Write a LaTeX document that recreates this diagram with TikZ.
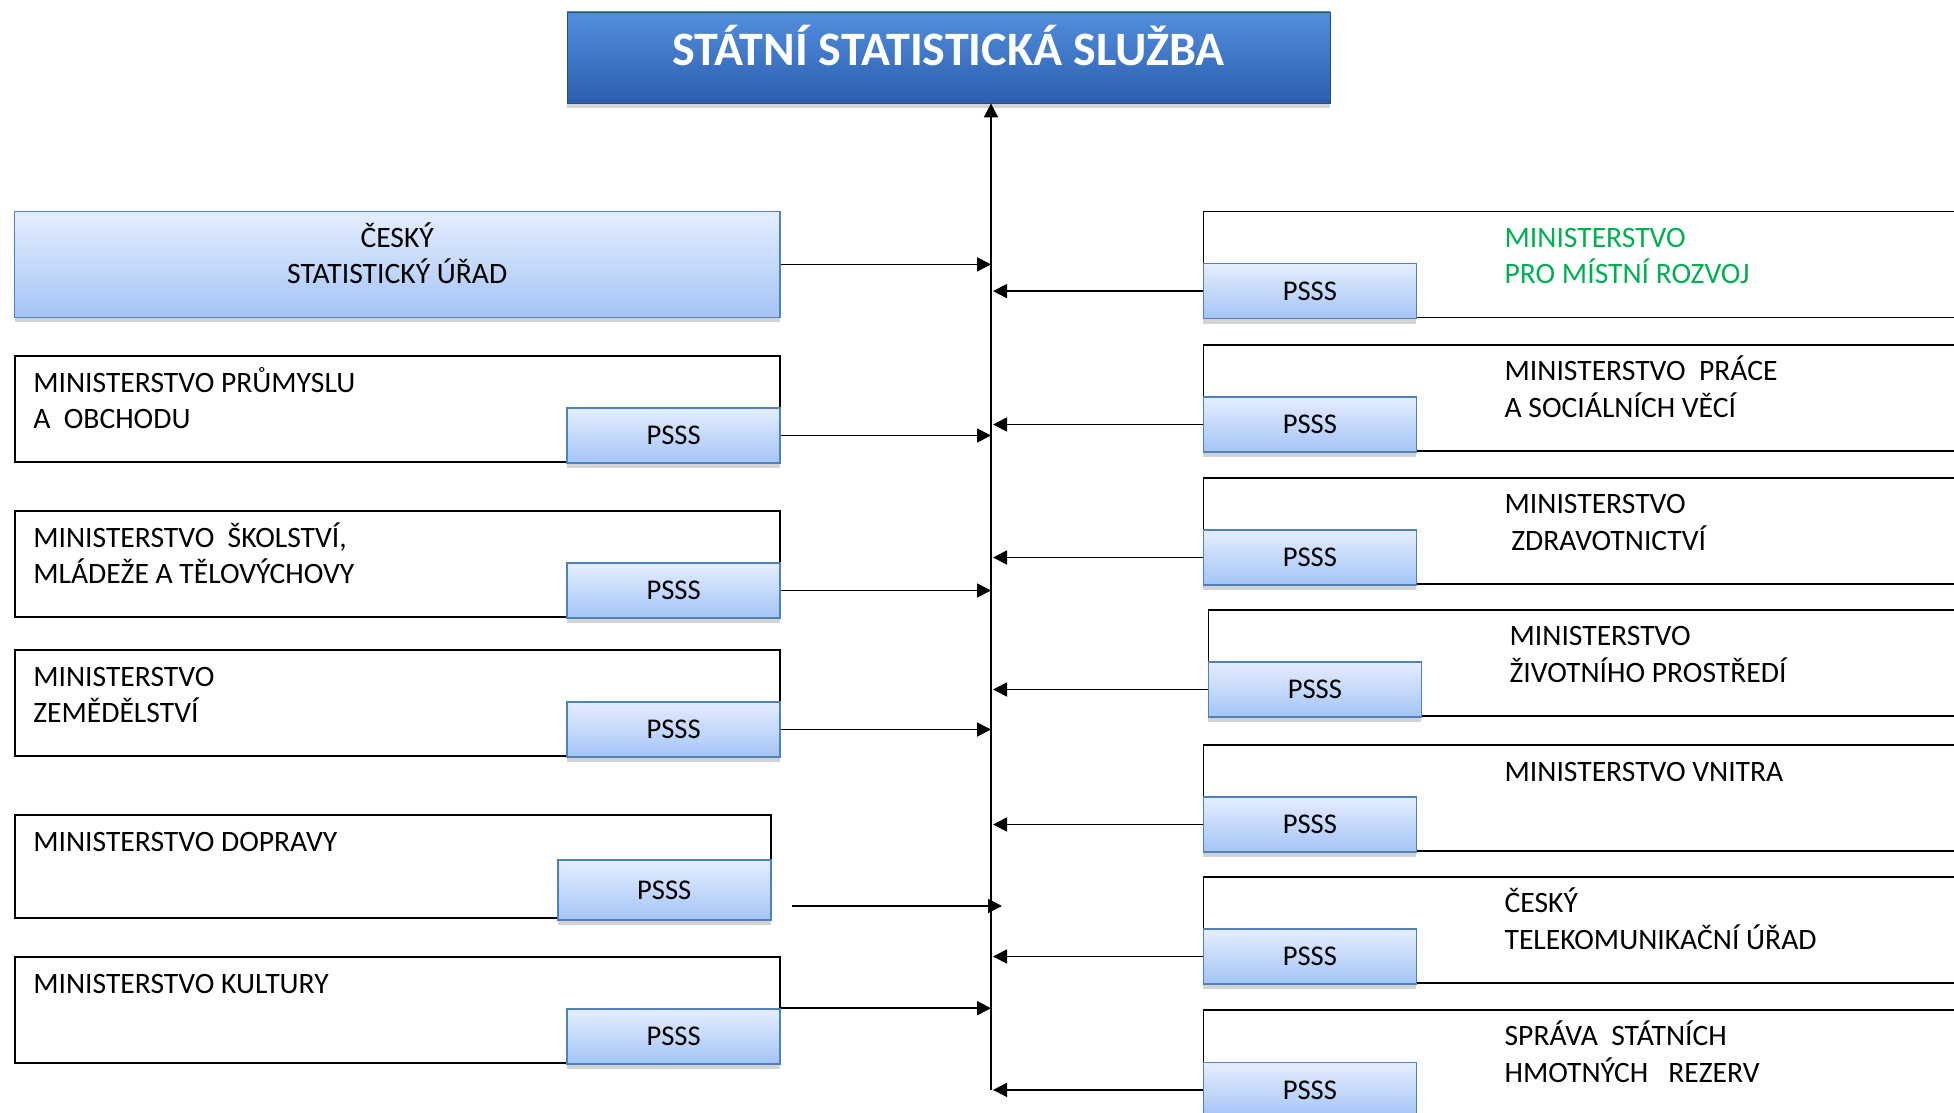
\documentclass[tikz,border=0pt]{standalone}
\usepackage{fontspec}
\setmainfont{Carlito}
\usetikzlibrary{positioning,arrows.meta,shadows}
\definecolor{titletop}{RGB}{82,142,222}
\definecolor{titlebot}{RGB}{44,94,172}
\definecolor{titleline}{RGB}{38,78,140}
\definecolor{pssstop}{RGB}{229,238,254}
\definecolor{psssbot}{RGB}{164,196,246}
\definecolor{psssline}{RGB}{79,129,189}
\definecolor{mmrgreen}{RGB}{0,176,80}
\tikzset{
	orgfont/.style={font=\fontsize{14.8}{18.3}\selectfont},
	boxshadow/.style={drop shadow={shadow xshift=0pt,shadow yshift=-2.5pt,opacity=0.35}},
	titlebox/.style={draw=titleline, top color=titletop, bottom color=titlebot, text=white,
		font=\bfseries\fontsize{24}{29}\selectfont, minimum width=381.5pt, minimum height=45.5pt,
		inner sep=0pt, text height=16pt, text depth=8pt, boxshadow},
	orgbox/.style={draw, line width=0.9pt, minimum height=53pt, inner sep=0pt, anchor=north west},
	psssbox/.style={draw=psssline, line width=0.8pt, top color=pssstop, bottom color=psssbot,
		font=\fontsize{14.3}{18}\selectfont, minimum width=106.5pt, minimum height=27.5pt, inner sep=0pt, boxshadow},
	orgtext/.style={orgfont, align=left, inner sep=0pt},
	arr/.style={line width=0.9pt, -{Triangle[length=7pt,width=7pt]}}
}
\begin{document}
\begin{tikzpicture}[x=0.5pt,y=-0.5pt]
	\useasboundingbox (0,0) rectangle (1954,1113);
	\clip (0,0) rectangle (1954,1113);
	\node[titlebox] (ssm) at (948.5,57.5) {STÁTNÍ STATISTICKÁ SLUŽBA};
	\coordinate (spine) at (991,1090);
	\draw[arr] (spine) -- (ssm.south -| spine);
	\node[psssbox, orgbox, draw=psssline, line width=0.8pt, orgfont, minimum width=382.7pt, align=center,
		text height=24pt, text depth=4.7pt] (csu) at (13.7,210.6) {ČESKÝ\\STATISTICKÝ ÚŘAD};
	\draw[arr] (csu.east) -- (csu.east -| spine);
	\foreach \n/\top/\at/\lh/\txt in {
		mpo/355/east/18.3/{MINISTERSTVO PRŮMYSLU\\A\ \ OBCHODU},
		msmt/510/east/18.3/{MINISTERSTVO\ \ ŠKOLSTVÍ,\\MLÁDEŽE A TĚLOVÝCHOVY},
		mze/649/east/18.3/{MINISTERSTVO\\ZEMĚDĚLSTVÍ},
		mk/956/north east/0/{MINISTERSTVO KULTURY}}
	{
		\node[orgbox, minimum width=382.7pt] (\n) at (13.7,\top) {};
		\node[orgtext, text height=\lh pt, below right=18.3pt and 9.6pt of \n.north west] {\txt};
		\node[psssbox, anchor=south east] (\n p) at ([yshift=-0.5pt]\n.south east) {PSSS};
		\draw[arr] (\n p.\at) -- (\n p.\at -| spine);
	}
	\node[orgbox, minimum width=378pt, minimum height=51.5pt] (md) at (13.7,814) {};
	\node[orgtext, text height=0pt, below right=18.3pt and 9.6pt of md.north west] {MINISTERSTVO DOPRAVY};
	\node[psssbox, anchor=south east, minimum height=30pt] (mdp) at ([yshift=-1pt]md.south east) {PSSS};
	\coordinate (mdfrom) at (792,906);
	\coordinate (mdto) at (1002,906);
	\draw[arr] (mdfrom) -- (mdto);
	\foreach \n/\top/\dx/\col/\lh/\txt in {
		mmr/210.6/0/mmrgreen/18.3/{MINISTERSTVO\\PRO MÍSTNÍ ROZVOJ},
		mpsv/344/0/black/18.3/{MINISTERSTVO\ \ PRÁCE\\A SOCIÁLNÍCH VĚCÍ},
		mzd/477/0/black/18.3/{MINISTERSTVO\\\ ZDRAVOTNICTVÍ},
		mzp/609/5/black/18.3/{MINISTERSTVO\\ŽIVOTNÍHO PROSTŘEDÍ},
		mv/744/0/black/0/{MINISTERSTVO VNITRA},
		ctu/876/0/black/18.3/{ČESKÝ\\TELEKOMUNIKAČNÍ ÚŘAD},
		sshr/1009.4/0/black/18.3/{SPRÁVA\ \ STÁTNÍCH\\HMOTNÝCH\ \ \ REZERV}}
	{
		\node[orgbox, minimum width=380pt] (\n) at (1202.6+\dx,\top) {};
		\node[orgtext, text=\col, text height=\lh pt, below right=18pt and 150.8pt of \n.north west] {\txt};
		\node[psssbox, anchor=south west] (\n p) at ([yshift=-0.5pt]\n.south west) {PSSS};
		\draw[arr, shorten >=1pt] (\n p.west) -- (\n p.west -| spine);
	}
\end{tikzpicture}
\end{document}
